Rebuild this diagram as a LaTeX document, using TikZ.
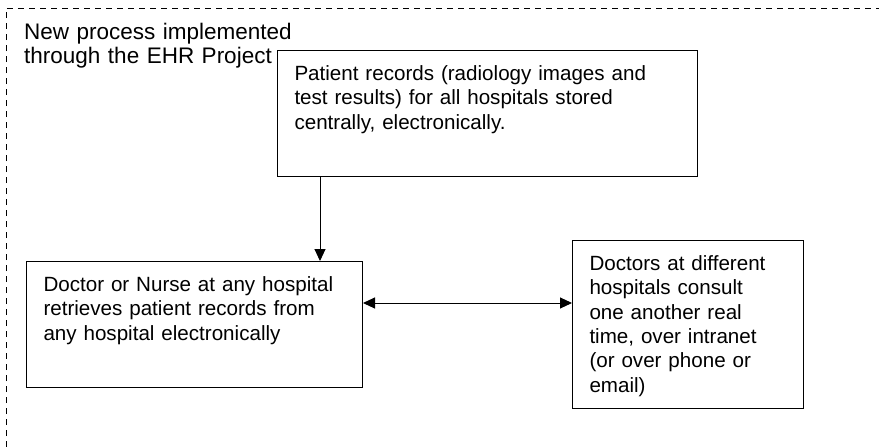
\documentclass[tikz,border=0pt]{standalone}
\usepackage{fontspec}
\setmainfont{Liberation Sans}
\usetikzlibrary{arrows.meta,positioning}
\tikzset{
  framebox/.style={draw=black,line width=0.9pt,dash pattern=on 6pt off 5pt},
  titletext/.style={anchor=north west,align=left,inner sep=0pt,text width=280pt,text height=15pt,font=\fontsize{22.5}{24}\selectfont},
  procbox/.style={draw=black,line width=1pt,align=left,inner xsep=17pt,inner ysep=15pt,text height=15pt,font=\fontsize{20.6}{24.3}\selectfont},
  arrow/.style={-{Triangle[length=12pt,width=11pt]},line width=1pt},
  twoway/.style={{Triangle[length=12pt,width=11pt]}-{Triangle[length=12pt,width=11pt]},line width=1pt}
}
\begin{document}
\begin{tikzpicture}[x=1pt,y=-1pt]
\useasboundingbox (0,0) rectangle (879,447);
\draw[framebox] (6,447) -- (6,8) -- (879,8);
\node[titletext] (title) at (24,24.5) {New process implemented\\through the EHR Project};
\node[procbox,anchor=north west,text width=386pt,text depth=81pt] (records) at (277,50)
  {Patient records (radiology images and\\test results) for all hospitals stored\\centrally, electronically.};
\node[procbox,below=84pt of records,xshift=-293pt,text width=302pt,text depth=81pt] (retrieve)
  {Doctor or Nurse at any hospital\\retrieves patient records from\\any hospital electronically};
\node[procbox,right=209pt of retrieve,text width=197pt,text depth=123pt] (consult)
  {Doctors at different\\hospitals consult\\one another real\\time, over intranet\\(or over phone or\\email)};
\draw[arrow] ([xshift=43pt]records.south west) -- ([xshift=43pt]records.south west |- retrieve.north);
\draw[twoway] ([yshift=-42pt]retrieve.north east) -- ([yshift=-42pt]retrieve.north east -| consult.west);
\end{tikzpicture}
\end{document}
